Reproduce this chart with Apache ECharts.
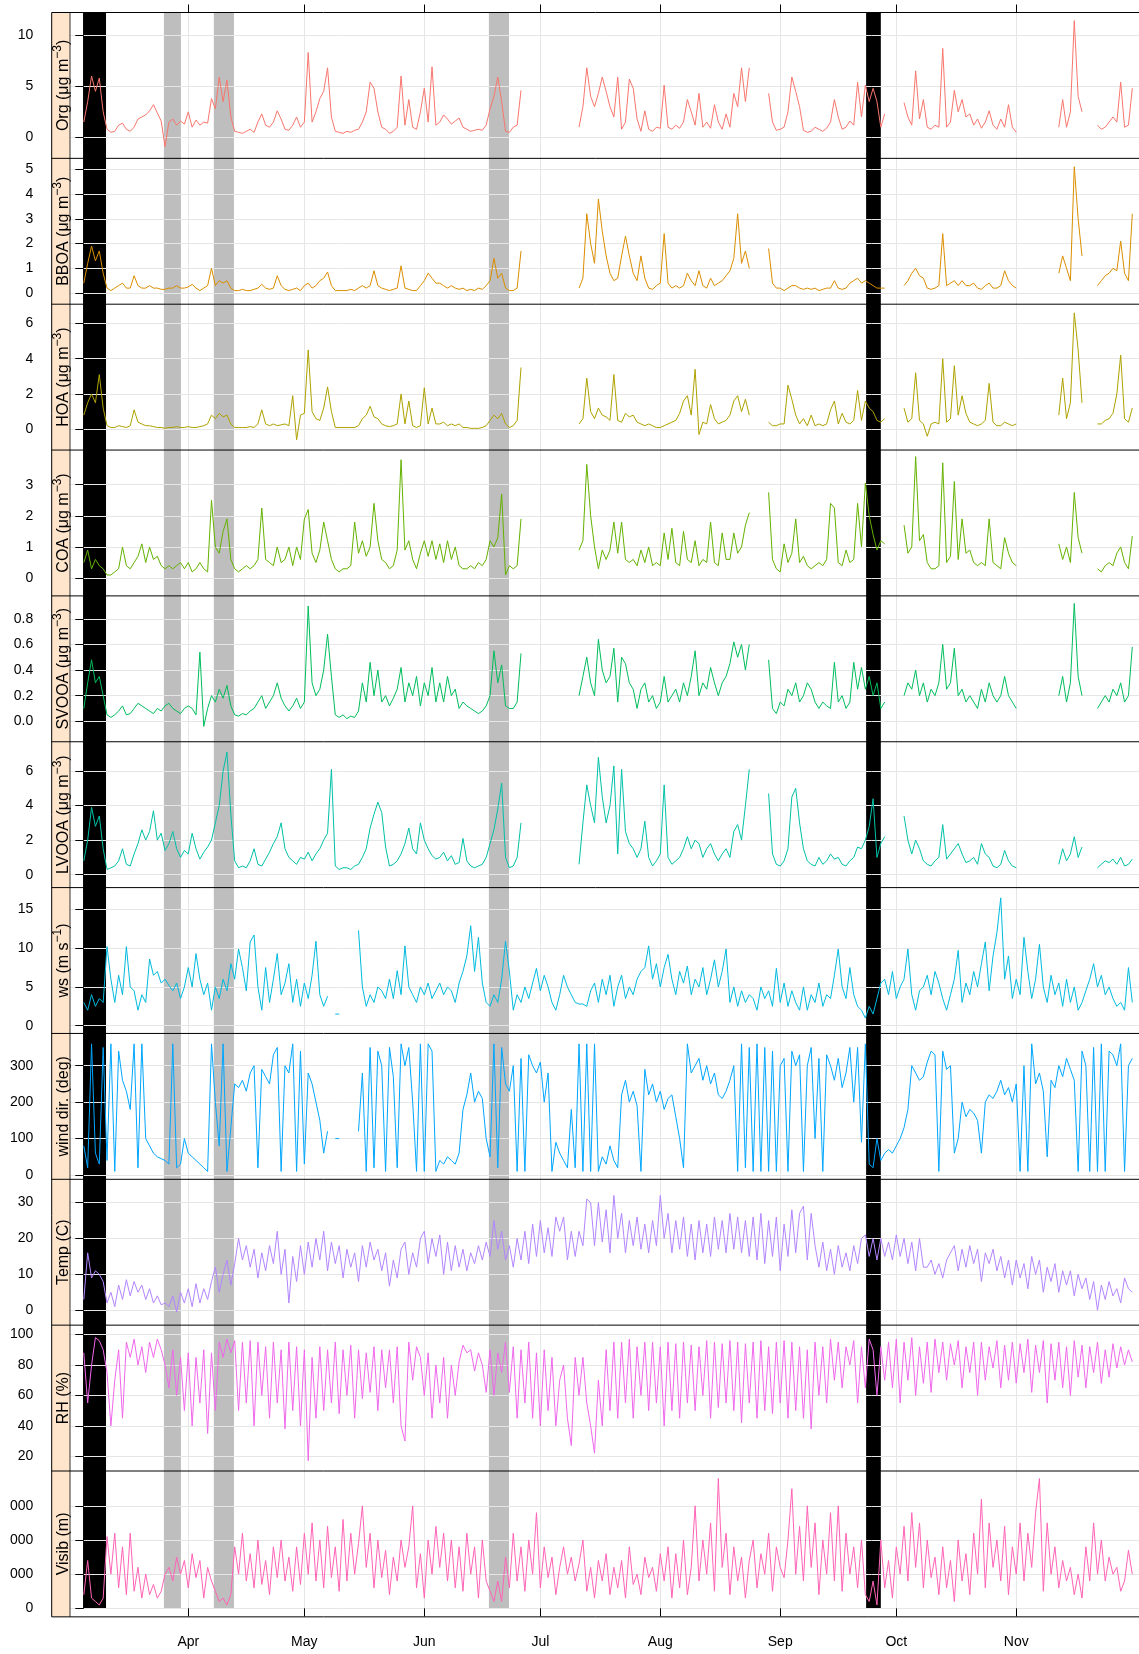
<!DOCTYPE html>
<html><head><meta charset="utf-8">
<script src="https://cdn.jsdelivr.net/npm/echarts@6/dist/echarts.min.js"></script>
<style>html,body{margin:0;padding:0;background:#fff}#c{width:1139px;height:1654px}</style>
</head><body><div id="c"></div>
<script>
const _ = null;
// x = day index counted from 5 March (one value per day)
const monthTicks = [27,57,88,118,149,180,210,241];
const monthLabels = ['Apr','May','Jun','Jul','Aug','Sep','Oct','Nov'];
const blackBands = [[-0.2,5.74],[202.2,206.0]];
const grayBands = [[20.7,25.1],[33.6,38.8],[104.7,109.9]];

const org = [
/*0*/1.5,3.5,6.0,4.5,5.8,2.5,0.8,0.5,0.6,1.2,
/*10*/1.4,0.8,0.6,1.0,1.8,2.0,2.2,2.6,3.2,2.4,
/*20*/1.6,-0.9,1.5,1.8,1.2,1.6,1.3,2.5,1.0,1.7,
/*30*/1.2,1.5,1.4,3.8,2.8,5.9,3.5,5.6,2.0,0.6,
/*40*/0.5,0.4,0.6,0.8,0.5,1.5,2.3,1.2,1.0,1.5,
/*50*/2.6,1.8,0.8,0.7,1.2,2.0,1.0,1.5,8.3,1.5,
/*60*/2.5,3.8,4.5,6.8,2.0,0.6,0.5,0.4,0.6,0.5,
/*70*/0.7,0.8,1.5,2.5,5.4,4.8,2.5,1.0,0.8,0.4,
/*80*/0.6,1.0,6.0,1.2,3.7,1.0,0.8,2.5,4.8,1.5,
/*90*/6.9,1.2,1.5,2.2,1.8,1.3,1.6,1.9,1.0,0.8,
/*100*/0.6,0.7,0.8,0.7,1.2,2.8,4.0,5.9,3.5,0.6,
/*110*/0.5,1.0,1.2,4.6,_,_,_,_,_,_,
/*120*/_,_,_,_,_,_,_,_,1.0,3.0,
/*130*/6.8,4.0,3.0,4.3,5.9,4.5,3.0,2.0,5.9,0.8,
/*140*/1.5,5.7,4.8,1.8,0.6,2.6,0.8,0.6,1.0,0.9,
/*150*/5.1,1.0,0.8,1.2,0.9,1.5,3.7,2.5,1.2,4.3,
/*160*/1.0,1.5,0.9,3.2,1.5,0.8,2.3,1.0,4.3,3.0,
/*170*/6.8,3.5,6.8,_,_,_,_,4.3,1.5,0.7,
/*180*/0.8,1.0,2.5,5.9,4.5,3.0,0.7,0.5,0.6,1.0,
/*190*/0.8,0.6,0.9,1.5,3.7,2.0,0.8,1.0,1.6,1.2,
/*200*/5.4,2.0,5.1,3.5,4.8,3.5,1.0,2.3,_,_,
/*210*/_,_,3.4,2.0,1.2,6.5,1.8,3.7,1.0,0.8,
/*220*/1.2,1.0,8.7,1.0,1.5,4.6,2.5,3.7,2.0,2.3,
/*230*/1.2,1.8,0.9,1.5,2.6,1.2,0.8,1.8,1.0,3.2,
/*240*/1.0,0.5,_,_,_,_,_,_,_,_,
/*250*/_,_,1.0,3.7,1.0,2.5,11.4,4.0,2.5,_,
/*260*/_,_,1.2,0.8,1.0,1.5,2.0,1.5,5.4,1.0,
/*270*/1.2,4.8];

const bboa = [
/*0*/0.4,1.2,1.9,1.3,1.7,0.8,0.2,0.1,0.2,0.3,
/*10*/0.4,0.2,0.2,0.7,0.3,0.2,0.2,0.3,0.2,0.2,
/*20*/0.15,0.15,0.2,0.2,0.3,0.2,0.2,0.25,0.35,0.2,
/*30*/0.1,0.2,0.3,1.0,0.3,0.5,0.4,0.5,0.2,0.1,
/*40*/0.1,0.15,0.1,0.1,0.15,0.2,0.35,0.2,0.15,0.2,
/*50*/0.7,0.3,0.15,0.1,0.15,0.2,0.1,0.3,0.4,0.2,
/*60*/0.3,0.5,0.6,0.85,0.3,0.1,0.1,0.1,0.1,0.15,
/*70*/0.1,0.2,0.3,0.2,0.3,0.9,0.3,0.2,0.15,0.1,
/*80*/0.15,0.2,1.1,0.2,0.15,0.1,0.1,0.3,0.5,0.8,
/*90*/0.6,0.4,0.4,0.3,0.2,0.3,0.2,0.15,0.2,0.1,
/*100*/0.15,0.1,0.2,0.15,0.3,0.5,1.4,0.6,0.8,0.2,
/*110*/0.1,0.1,0.2,1.7,_,_,_,_,_,_,
/*120*/_,_,_,_,_,_,_,_,0.2,0.6,
/*130*/3.2,2.0,1.2,3.8,2.5,1.5,0.8,0.5,0.6,1.5,
/*140*/2.3,1.5,0.8,0.5,1.5,0.6,0.2,0.15,0.3,0.4,
/*150*/2.4,0.4,0.2,0.3,0.2,0.3,0.8,0.5,0.3,0.9,
/*160*/0.3,0.2,0.6,0.3,0.4,0.5,0.7,0.9,1.4,3.2,
/*170*/1.2,1.7,1.0,_,_,_,_,1.8,0.4,0.2,
/*180*/0.2,0.1,0.2,0.3,0.3,0.2,0.15,0.2,0.15,0.2,
/*190*/0.1,0.15,0.2,0.2,0.5,0.2,0.15,0.2,0.4,0.5,
/*200*/0.6,0.4,0.5,0.4,0.3,0.2,0.2,0.2,_,_,
/*210*/_,_,0.3,0.5,0.8,1.0,0.7,0.6,0.2,0.15,
/*220*/0.2,0.3,2.4,0.3,0.4,0.5,0.3,0.5,0.3,0.3,
/*230*/0.4,0.2,0.15,0.3,0.4,0.2,0.2,0.3,0.9,0.5,
/*240*/0.3,0.2,_,_,_,_,_,_,_,_,
/*250*/_,_,0.8,1.5,1.0,0.5,5.1,3.0,1.5,_,
/*260*/_,_,0.3,0.5,0.7,0.8,1.0,0.9,2.1,0.8,
/*270*/0.5,3.2];

const hoa = [
/*0*/0.8,1.5,2.0,1.5,3.1,1.2,0.2,0.1,0.1,0.2,
/*10*/0.15,0.1,0.2,1.1,0.4,0.3,0.2,0.2,0.15,0.1,
/*20*/0.1,0.05,0.1,0.1,0.15,0.1,0.1,0.15,0.1,0.1,
/*30*/0.15,0.2,0.3,0.8,0.6,0.9,0.7,0.8,0.3,0.1,
/*40*/0.1,0.1,0.1,0.15,0.1,0.3,1.1,0.3,0.2,0.3,
/*50*/0.2,0.25,0.3,0.2,1.9,-0.6,0.8,0.9,4.5,1.0,
/*60*/0.6,0.5,1.2,2.4,1.0,0.1,0.1,0.1,0.1,0.1,
/*70*/0.1,0.2,0.6,0.8,1.3,0.7,0.6,0.3,0.2,0.15,
/*80*/0.2,0.3,2.0,0.3,1.6,0.2,0.1,0.2,2.35,0.3,
/*90*/1.2,0.3,0.3,0.4,0.2,0.3,0.2,0.3,0.1,0.1,
/*100*/0.05,0.05,0.05,0.1,0.2,0.5,0.8,0.6,0.9,0.3,
/*110*/0.1,0.2,0.5,3.5,_,_,_,_,_,_,
/*120*/_,_,_,_,_,_,_,_,0.3,0.6,
/*130*/2.9,1.0,0.6,1.2,0.8,0.7,0.5,3.1,0.5,0.4,
/*140*/0.9,0.7,0.8,0.4,0.3,0.2,0.3,0.2,0.1,0.1,
/*150*/0.2,0.3,0.4,0.5,0.9,1.6,1.9,0.8,3.4,-0.3,
/*160*/0.4,0.3,1.4,0.6,0.3,0.4,0.5,0.8,1.6,1.9,
/*170*/1.0,1.7,0.8,_,_,_,_,0.4,0.2,0.2,
/*180*/0.3,0.3,2.5,1.7,0.8,0.3,0.6,0.2,0.8,0.2,
/*190*/0.3,0.2,0.3,1.1,1.6,0.3,0.9,0.4,0.3,0.5,
/*200*/2.2,0.5,1.6,1.2,1.0,0.5,0.4,0.6,_,_,
/*210*/_,_,1.2,0.4,0.6,3.2,0.5,0.3,-0.4,0.3,
/*220*/0.4,0.3,4.0,0.4,0.6,3.6,0.8,1.9,0.9,0.4,
/*230*/0.3,0.2,0.3,0.5,2.6,0.4,0.2,0.2,0.4,0.3,
/*240*/0.2,0.3,_,_,_,_,_,_,_,_,
/*250*/_,_,0.8,2.9,0.6,1.5,6.6,4.5,1.5,_,
/*260*/_,_,0.3,0.3,0.5,0.6,0.9,2.0,4.2,0.6,
/*270*/0.4,1.2];

const coa = [
/*0*/0.5,0.9,0.3,0.6,0.4,0.3,0.1,0.1,0.2,0.3,
/*10*/1.0,0.4,0.3,0.5,0.7,1.1,0.5,1.0,0.6,0.7,
/*20*/0.4,0.3,0.4,0.3,0.4,0.5,0.3,0.5,0.2,0.3,
/*30*/0.5,0.3,0.2,2.5,1.0,0.8,1.5,1.9,0.6,0.3,
/*40*/0.2,0.3,0.4,0.3,0.4,0.6,2.25,0.6,0.5,0.4,
/*50*/1.0,0.5,0.6,1.0,0.4,1.0,0.6,1.9,2.2,0.8,
/*60*/0.5,0.9,1.8,1.2,0.6,0.3,0.2,0.3,0.3,0.4,
/*70*/1.8,0.8,1.2,0.7,1.0,2.4,1.2,0.6,0.5,0.3,
/*80*/0.4,0.9,3.8,0.9,1.2,0.6,0.3,0.8,1.2,0.7,
/*90*/1.2,0.6,1.1,0.5,1.2,0.6,1.0,0.4,0.3,0.3,
/*100*/0.4,0.3,0.5,0.4,0.6,1.2,1.0,1.3,2.7,0.1,
/*110*/0.4,0.3,0.4,1.9,_,_,_,_,_,_,
/*120*/_,_,_,_,_,_,_,_,0.9,1.2,
/*130*/3.65,2.0,1.0,0.3,0.9,0.6,0.9,1.8,0.8,1.8,
/*140*/0.6,0.5,0.6,0.4,0.9,0.5,1.0,0.4,0.5,0.4,
/*150*/1.45,0.6,1.6,0.5,0.4,1.5,0.6,0.5,1.2,0.4,
/*160*/0.6,0.5,1.8,0.5,0.4,1.45,0.6,0.6,1.45,0.8,
/*170*/1.0,1.7,2.1,_,_,_,_,2.75,0.6,0.3,
/*180*/0.2,1.1,0.5,0.8,1.9,0.5,0.7,0.4,0.3,0.4,
/*190*/0.5,0.4,0.6,2.4,2.25,0.5,0.4,0.9,0.5,0.6,
/*200*/2.4,1.0,3.05,2.0,1.4,0.9,1.2,1.1,_,_,
/*210*/_,_,1.7,0.8,1.0,3.9,1.2,1.4,0.5,0.3,
/*220*/0.3,0.4,3.7,0.5,0.7,3.1,0.6,1.9,0.8,0.9,
/*230*/0.5,0.4,0.5,0.4,1.9,0.5,0.4,0.3,1.3,0.8,
/*240*/0.5,0.4,_,_,_,_,_,_,_,_,
/*250*/_,_,1.1,0.6,1.0,0.5,2.75,1.3,0.8,_,
/*260*/_,_,0.3,0.2,0.4,0.5,0.4,0.8,1.0,0.5,
/*270*/0.3,1.35];

const svooa = [
/*0*/0.1,0.3,0.48,0.3,0.35,0.2,0.05,0.03,0.05,0.08,
/*10*/0.12,0.05,0.06,0.1,0.14,0.12,0.1,0.08,0.06,0.1,
/*20*/0.08,0.12,0.14,0.1,0.08,0.06,0.1,0.12,0.1,0.05,
/*30*/0.54,-0.04,0.1,0.2,0.15,0.25,0.18,0.28,0.12,0.05,
/*40*/0.04,0.06,0.05,0.08,0.1,0.15,0.2,0.1,0.15,0.2,
/*50*/0.3,0.18,0.12,0.08,0.12,0.18,0.1,0.15,0.9,0.3,
/*60*/0.2,0.25,0.4,0.68,0.35,0.05,0.03,0.05,0.02,0.04,
/*70*/0.03,0.08,0.3,0.15,0.46,0.2,0.4,0.15,0.2,0.12,
/*80*/0.18,0.25,0.42,0.15,0.3,0.2,0.35,0.12,0.3,0.2,
/*90*/0.42,0.15,0.3,0.15,0.35,0.2,0.25,0.1,0.15,0.12,
/*100*/0.1,0.08,0.06,0.08,0.12,0.2,0.55,0.3,0.44,0.12,
/*110*/0.1,0.1,0.15,0.53,_,_,_,_,_,_,
/*120*/_,_,_,_,_,_,_,_,0.2,0.35,
/*130*/0.5,0.3,0.2,0.64,0.4,0.3,0.35,0.57,0.15,0.5,
/*140*/0.45,0.3,0.25,0.1,0.25,0.3,0.15,0.2,0.1,0.15,
/*150*/0.35,0.15,0.2,0.25,0.15,0.3,0.2,0.35,0.55,0.2,
/*160*/0.3,0.25,0.42,0.3,0.2,0.3,0.35,0.45,0.62,0.5,
/*170*/0.6,0.4,0.6,_,_,_,_,0.48,0.1,0.06,
/*180*/0.15,0.12,0.25,0.2,0.3,0.15,0.2,0.3,0.25,0.15,
/*190*/0.1,0.15,0.12,0.1,0.46,0.15,0.2,0.1,0.15,0.46,
/*200*/0.25,0.42,0.25,0.35,0.2,0.3,0.1,0.15,_,_,
/*210*/_,_,0.2,0.3,0.25,0.4,0.2,0.3,0.15,0.25,
/*220*/0.2,0.3,0.6,0.25,0.3,0.57,0.2,0.25,0.15,0.2,
/*230*/0.15,0.1,0.25,0.15,0.3,0.2,0.15,0.2,0.35,0.2,
/*240*/0.15,0.1,_,_,_,_,_,_,_,_,
/*250*/_,_,0.2,0.35,0.15,0.3,0.92,0.35,0.2,_,
/*260*/_,_,0.1,0.15,0.2,0.15,0.25,0.2,0.3,0.15,
/*270*/0.2,0.58];

const lvooa = [
/*0*/0.8,2.0,3.9,2.8,3.4,1.5,0.3,0.4,0.5,0.8,
/*10*/1.5,0.6,0.5,1.2,1.8,2.6,2.0,2.5,3.7,2.0,
/*20*/2.4,1.4,1.8,2.5,1.5,1.0,1.4,1.2,2.4,1.5,
/*30*/0.9,1.3,1.6,2.0,3.0,4.0,6.0,7.1,3.5,0.8,
/*40*/0.4,0.5,0.4,0.8,1.5,0.6,0.5,0.9,1.3,1.8,
/*50*/2.2,3.0,1.5,1.0,0.8,0.6,1.0,0.9,1.3,0.8,
/*60*/1.2,1.5,2.0,2.4,6.1,0.5,0.3,0.4,0.4,0.3,
/*70*/0.5,0.6,1.0,1.5,2.7,3.5,4.2,3.6,1.6,0.5,
/*80*/0.6,0.8,1.2,1.8,2.7,1.5,1.2,3.0,2.0,1.5,
/*90*/1.1,0.9,1.0,1.3,0.8,1.1,0.6,0.7,2.1,0.8,
/*100*/0.5,0.4,0.5,0.6,1.0,1.8,2.6,3.8,5.3,1.0,
/*110*/0.4,0.5,1.0,3.0,_,_,_,_,_,_,
/*120*/_,_,_,_,_,_,_,_,0.6,3.0,
/*130*/5.2,4.0,3.0,6.8,4.5,3.0,4.0,6.3,1.2,6.1,
/*140*/2.5,1.8,1.5,1.0,1.5,3.1,1.0,0.5,0.8,1.2,
/*150*/5.2,1.0,0.6,0.8,1.0,1.5,2.2,1.5,2.0,1.8,
/*160*/1.0,1.5,1.8,1.2,0.8,1.2,1.5,1.0,2.5,2.9,
/*170*/2.0,4.0,6.1,_,_,_,_,4.7,1.2,0.6,
/*180*/0.5,0.8,1.5,4.5,5.0,3.0,1.5,0.8,0.6,0.5,
/*190*/1.0,0.6,0.8,1.2,0.9,1.0,0.6,0.5,0.8,1.0,
/*200*/1.6,1.5,2.0,2.8,4.4,1.0,1.8,2.2,_,_,
/*210*/_,_,3.4,2.0,1.2,2.0,1.5,0.8,0.6,0.5,
/*220*/0.8,1.0,2.9,0.9,1.2,1.5,1.8,1.2,0.7,0.8,
/*230*/1.0,0.6,1.8,1.2,1.0,0.5,0.4,0.6,1.4,0.8,
/*240*/0.5,0.4,_,_,_,_,_,_,_,_,
/*250*/_,_,0.6,1.5,0.8,1.2,2.2,1.0,1.6,_,
/*260*/_,_,0.4,0.6,0.8,0.7,0.9,0.6,1.0,0.5,
/*270*/0.6,0.9];

const ws = [
/*0*/3.0,2.0,4.0,2.5,3.5,3.0,10.2,6.0,3.0,6.5,
/*10*/4.0,10.2,5.0,4.5,2.0,4.0,3.0,8.6,6.5,7.0,
/*20*/5.5,6.0,5.2,4.5,5.5,3.5,5.0,7.5,5.0,9.3,
/*30*/6.0,4.0,5.5,2.0,5.0,3.5,6.0,4.5,8.0,6.0,
/*40*/9.9,7.5,4.5,10.8,11.7,5.0,2.0,7.5,3.0,6.0,
/*50*/9.3,4.0,5.5,8.0,3.0,6.0,2.5,5.5,3.5,6.5,
/*60*/10.9,4.0,2.5,3.8,_,1.5,1.5,_,_,_,
/*70*/_,12.3,5.0,2.5,4.0,3.0,5.0,4.5,3.5,6.0,
/*80*/3.5,7.1,4.0,10.3,5.0,4.0,3.0,5.0,4.0,5.5,
/*90*/3.5,4.5,5.5,4.0,5.0,4.5,3.0,5.5,7.0,9.0,
/*100*/12.9,7.0,11.4,5.5,3.0,2.5,4.0,3.0,6.0,10.9,
/*110*/7.0,2.0,4.0,3.0,5.0,3.5,5.5,7.4,4.5,6.5,
/*120*/5.0,3.0,2.0,4.0,6.5,5.0,4.0,3.0,2.8,2.8,
/*130*/2.5,4.5,5.5,3.0,6.0,4.0,6.5,2.5,5.0,6.5,
/*140*/3.5,5.0,4.0,6.0,7.0,7.5,10.3,6.0,8.0,5.0,
/*150*/7.5,9.2,6.0,4.0,7.0,5.5,7.7,4.0,6.0,5.0,
/*160*/7.5,4.0,6.0,8.5,5.0,7.0,9.9,3.0,5.0,2.5,
/*170*/4.5,3.0,4.0,3.5,2.0,5.0,3.5,4.5,2.5,7.4,
/*180*/3.0,5.5,2.5,4.5,3.0,2.0,5.0,2.0,4.0,3.0,
/*190*/5.5,2.5,4.0,3.5,6.5,9.9,5.0,3.5,7.5,4.0,
/*200*/2.5,2.0,1.0,2.5,1.5,3.5,5.5,6.0,4.0,7.0,
/*210*/3.5,5.0,6.0,9.9,4.0,2.0,4.5,5.0,6.5,4.0,
/*220*/7.0,5.5,3.5,2.0,4.0,6.0,9.7,3.0,5.5,4.0,
/*230*/7.0,5.0,8.0,10.8,4.5,9.0,12.0,16.5,6.0,9.0,
/*240*/3.5,6.0,4.0,11.4,7.0,3.5,6.0,10.5,5.0,3.0,
/*250*/6.5,4.0,5.5,2.5,6.0,3.0,5.0,2.0,3.0,4.5,
/*260*/6.0,8.0,5.0,6.5,4.0,5.0,3.5,2.5,3.0,2.0,
/*270*/7.5,3.0];

const wd = [
/*0*/80,20,360,60,30,350,40,360,10,340,
/*10*/260,230,180,360,20,360,100,80,60,50,
/*20*/45,40,30,360,20,30,100,60,50,40,
/*30*/30,20,10,360,200,80,360,10,130,250,
/*40*/240,260,230,280,300,20,290,270,250,330,
/*50*/350,10,300,280,360,10,340,30,280,250,
/*60*/200,150,60,120,_,100,100,_,_,_,
/*70*/_,120,280,10,350,20,340,300,10,350,
/*80*/270,20,360,300,350,200,10,360,10,360,
/*90*/340,10,40,30,50,40,30,60,180,220,
/*100*/280,200,230,210,100,50,360,20,350,250,
/*110*/230,300,10,320,10,330,300,280,310,200,
/*120*/280,10,90,60,40,20,180,20,360,10,
/*130*/360,10,360,10,50,30,80,40,20,220,
/*140*/260,200,230,190,10,290,220,250,200,230,
/*150*/180,210,220,160,100,20,360,280,300,320,
/*160*/260,300,250,280,220,210,230,260,300,10,
/*170*/360,20,350,10,360,10,350,10,340,10,
/*180*/300,320,10,340,300,330,10,300,350,100,
/*190*/320,10,330,300,260,320,240,280,350,200,
/*200*/350,90,360,30,20,100,40,60,70,60,
/*210*/80,100,130,180,300,280,260,270,310,340,
/*220*/330,10,340,290,300,60,100,200,160,180,
/*230*/170,150,60,200,220,210,230,260,220,240,
/*240*/200,250,10,300,10,360,250,280,230,50,
/*250*/260,240,300,270,320,290,260,10,340,300,
/*260*/10,350,10,360,10,340,330,300,360,10,
/*270*/300,320];

const temp = [
/*0*/3,16,9,11,10,8,2,5,1,7,
/*10*/3,8.5,4,8,5,7,3,6,2,4,
/*20*/1.5,2,1,4,-0.5,5,2,6,1,7.4,
/*30*/2,6,3,8,12,5,10,14,7,13,
/*40*/20,14,18,12,17,9,16,11,18,13,
/*50*/22,10,17,2,15,8,18,10,19,12,
/*60*/20,14,22,11,19,13,18,9,17,12,
/*70*/16,8,18,12,19,14,17,11,16,6.7,
/*80*/14,9,17,19,10,16,12,20,22,13,
/*90*/20,15,21,10,19,11,18,12,17,11,
/*100*/16,13,18,14,19,15,25,17,22,14,
/*110*/18,12,20,14,22,13,24,15,25,16,
/*120*/23,15,26,22,26,14,22,15,22,18,
/*130*/31,30,18,30,19,28,16,32,20,27,
/*140*/16,25,18,26,17,24,16,25,18,32,
/*150*/20,27,16,25,17,26,15,24,14,25,
/*160*/16,24,15,26,17,25,16,27,17,26,
/*170*/16,25,15,26,14,27,13,25,15,26,
/*180*/11,24,15,28,16,27,29,14,27,18,
/*190*/12,19,11,17,10,18,12,16,11,18,
/*200*/13,20,21,15,20,14,20,15,19,14,
/*210*/21,15,20,13,19,11,20,12,12,14,
/*220*/10,13,9,14,16,18,11,17,12,18,
/*230*/13,17,8,16,13,17,11,15,9,14,
/*240*/7,14,9,13,6,15,10,14,5,12,
/*250*/8,13,5,11,7,11,4,10,6,9,
/*260*/3,8,0,7,3,8,4,6,2,9,
/*270*/6,5];

const rh = [
/*0*/88,55,80,98,96,90,75,40,70,90,
/*10*/45,95,85,97,80,92,75,95,85,97,
/*20*/90,80,65,90,60,85,50,88,40,85,
/*30*/55,90,35,88,50,95,85,97,88,96,
/*40*/50,95,55,96,40,95,60,92,45,95,
/*50*/55,90,38,95,50,92,40,90,17,85,
/*60*/45,92,50,90,55,95,48,90,60,93,
/*70*/45,90,58,88,62,92,50,90,65,90,
/*80*/55,92,40,30,95,70,92,85,60,88,
/*90*/45,80,55,85,45,80,60,82,93,88,
/*100*/90,76,88,80,62,90,60,88,75,95,
/*110*/62,92,45,90,55,95,45,88,40,90,
/*120*/50,85,40,70,80,45,27,85,60,85,
/*130*/55,40,22,70,40,90,50,95,45,95,
/*140*/55,97,45,92,60,95,50,95,55,92,
/*150*/40,95,50,94,45,95,55,93,50,92,
/*160*/60,96,45,95,52,94,55,96,50,95,
/*170*/42,94,55,95,45,96,50,92,48,95,
/*180*/55,96,45,95,50,92,45,90,38,95,
/*190*/60,92,55,97,70,95,65,92,80,96,
/*200*/55,92,65,97,90,60,92,70,95,65,
/*210*/97,55,95,70,98,60,92,68,95,62,
/*220*/97,75,95,70,94,80,96,65,92,75,
/*230*/95,60,95,70,92,78,96,65,93,70,
/*240*/95,68,94,75,97,62,93,75,96,55,
/*250*/94,70,95,65,92,60,96,72,93,65,
/*260*/92,75,95,68,90,72,94,78,92,80,
/*270*/90,82];

// visibility in km (tick labels as printed: "000")
const visib = [
/*0*/4,14,3,2,1,3,21,10,22,6,
/*10*/18,4,22,5,12,3,10,4,7,3,
/*20*/5,10,12,8,15,10,14,6,16,9,
/*30*/14,3,12,8,5,2,3,1,4,18,
/*40*/10,22,8,16,6,20,7,14,4,18,
/*50*/9,20,8,15,5,18,7,22,10,25,
/*60*/8,20,6,24,9,18,5,26,8,22,
/*70*/10,19,30,12,22,6,20,9,17,4,
/*80*/15,8,20,12,18,30,6,16,3,20,
/*90*/10,24,12,22,8,20,6,18,5,22,
/*100*/10,18,3,20,8,5,2,8,2,15,
/*110*/6,22,8,18,5,20,10,28,6,18,
/*120*/9,15,4,12,18,10,15,8,13,20,
/*130*/5,12,3,14,8,16,4,12,6,14,
/*140*/3,18,7,10,4,15,9,12,5,16,
/*150*/8,18,3,16,6,20,4,12,30,8,
/*160*/20,10,25,5,38,12,22,4,18,8,
/*170*/15,3,14,20,6,16,10,22,5,18,
/*180*/12,9,20,35,10,24,8,30,12,25,
/*190*/4,20,10,28,8,30,5,22,10,18,
/*200*/6,20,4,2,8,1,20,6,14,3,
/*210*/18,10,24,8,28,12,25,6,20,9,
/*220*/15,4,18,6,14,2,20,8,16,4,
/*230*/22,10,32,6,25,12,20,8,24,4,
/*240*/18,10,25,8,22,12,28,38,5,25,
/*250*/10,18,6,14,8,12,4,10,3,18,
/*260*/8,25,10,20,8,15,10,12,5,8,
/*270*/17,10];

const orgTicks = [0,5,10];
const bboaTicks = [0,1,2,3,4,5];
const hoaTicks = [0,2,4,6];
const coaTicks = [0,1,2,3];
const svooaTicks = [0,0.2,0.4,0.6,0.8];
const lvooaTicks = [0,2,4,6];
const wsTicks = [0,5,10,15];
const wdTicks = [0,100,200,300];
const tempTicks = [0,10,20,30];
const rhTicks = [20,40,60,80,100];
const visibTicks = [0,10,20,30];
const visibTickLabels = ['0','000','000','000'];

const FONT = '"Liberation Sans", Arial, Helvetica, sans-serif';
const GRIDC = '#e6e6e6';
const L = 70, AX = 51.7, TOP0 = 12.5, PH = 145.85, W = 1139;
const XMIN = -3.57, XMAX = 272.73;
const BAND_BOTTOM = 1608.3;

const panels = [
  {name:'Org (μg m{s|−3})', data:org, color:'#F8766D', min:-2.04, max:12.2, ticks:orgTicks},
  {name:'BBOA (μg m{s|−3})', data:bboa, color:'#DB8E00', min:-0.45, max:5.44, ticks:bboaTicks},
  {name:'HOA (μg m{s|−3})', data:hoa, color:'#AEA200', min:-1.18, max:7.09, ticks:hoaTicks},
  {name:'COA (μg m{s|−3})', data:coa, color:'#64B200', min:-0.57, max:4.11, ticks:coaTicks},
  {name:'SVOOA (μg m{s|−3})', data:svooa, color:'#00BD5C', min:-0.16, max:0.979, ticks:svooaTicks, fmt:v=>v.toFixed(1)},
  {name:'LVOOA (μg m{s|−3})', data:lvooa, color:'#00C1A7', min:-0.75, max:7.7, ticks:lvooaTicks},
  {name:'ws (m s{s|−1})', data:ws, color:'#00BADE', min:-1.0, max:17.82, ticks:wsTicks},
  {name:'wind dir. (deg)', data:wd, color:'#00A6FF', min:-11.7, max:388.5, ticks:wdTicks},
  {name:'Temp (C)', data:temp, color:'#B385FF', min:-4.16, max:36.5, ticks:tempTicks},
  {name:'RH (%)', data:rh, color:'#EF67EB', min:10.3, max:106.2, ticks:rhTicks},
  {name:'Visib (m)', data:visib, color:'#FF63B6', min:-2.49, max:40.2, ticks:visibTicks, fmt:v=>visibTickLabels[visibTicks.indexOf(Math.round(v))]}
];

const grids = [], xAxes = [], yAxes = [], series = [], graphics = [];
const N = panels.length;
panels.forEach((p,i)=>{
  const last = i === N-1;
  grids.push({left:L, right:0, top:TOP0+i*PH, height:PH});
  xAxes.push({type:'value', gridIndex:i, min:XMIN, max:XMAX,
    axisLine:{show:false},
    axisTick:{show:last, length:8, customValues:monthTicks, lineStyle:{color:'#000', width:1}},
    axisLabel:{show:last, customValues:monthTicks, margin:18, fontSize:14, color:'#000', fontFamily:FONT,
      formatter:v=>monthLabels[monthTicks.indexOf(Math.round(v))]},
    splitLine:{show:true, customValues:monthTicks, lineStyle:{color:GRIDC, width:1}}});
  yAxes.push({type:'value', gridIndex:i, min:p.min, max:p.max, position:'left', offset:L-AX,
    axisLine:{show:false},
    axisTick:{show:true, length:8.5, customValues:p.ticks, lineStyle:{color:'#000', width:1}},
    axisLabel:{show:true, customValues:p.ticks, margin:18.4, fontSize:14, color:'#000', fontFamily:FONT,
      formatter:p.fmt || (v=>String(v))},
    splitLine:{show:true, customValues:p.ticks, lineStyle:{color:GRIDC, width:1}}});
  series.push({type:'line', xAxisIndex:i, yAxisIndex:i, data:p.data.map((v,k)=>[k,v]),
    showSymbol:false, symbol:'none', connectNulls:false, silent:true, z:3,
    lineStyle:{color:p.color, width:1}, itemStyle:{color:p.color}});
  const t = TOP0 + i*PH;
  graphics.push({type:'rect', shape:{x:AX, y:t, width:L-AX, height:PH}, style:{fill:'#FFE5CC'}, z:5});
  graphics.push({type:'text', x:63.5, y:t+PH/2, rotation:Math.PI/2, z:6,
    style:{text:p.name, fill:'#000', font:'16px '+FONT, align:'center', verticalAlign:'middle', lineHeight:24,
      rich:{s:{fontSize:12, fontFamily:FONT, fill:'#000', verticalAlign:'top', lineHeight:24}}}});
});
// top ticks
xAxes.push({type:'value', gridIndex:0, position:'top', min:XMIN, max:XMAX,
  axisLine:{show:false}, axisLabel:{show:false}, splitLine:{show:false},
  axisTick:{show:true, length:8, customValues:monthTicks, lineStyle:{color:'#000', width:1}}});
// band overlay
grids.push({left:L, right:0, top:TOP0, height:BAND_BOTTOM-TOP0});
xAxes.push({type:'value', gridIndex:N, min:XMIN, max:XMAX, show:false});
yAxes.push({type:'value', gridIndex:N, min:0, max:1, show:false});
function bandSeries(bands, color){
  return {type:'custom', xAxisIndex:N+1, yAxisIndex:N, z:-1, silent:true, data:bands,
    encode:{x:[0,1]},
    renderItem:(params, api)=>{
      const a = api.coord([api.value(0),1]);
      const b = api.coord([api.value(1),0]);
      return {type:'rect', shape:{x:a[0], y:a[1], width:b[0]-a[0], height:b[1]-a[1]}, style:{fill:color}};
    }};
}
series.push(bandSeries(blackBands,'#000000'));
series.push(bandSeries(grayBands,'#BEBEBE'));

// frame lines
const BOTTOM = TOP0 + N*PH;
graphics.push({type:'line', z:10, shape:{x1:AX, y1:TOP0, x2:AX, y2:BOTTOM}, style:{stroke:'#000', lineWidth:1}});
graphics.push({type:'line', z:10, shape:{x1:L, y1:TOP0, x2:L, y2:BOTTOM}, style:{stroke:'#333', lineWidth:1}});
for (let k=0;k<=N;k++){
  const y = TOP0 + k*PH;
  graphics.push({type:'line', z:10, shape:{x1:AX, y1:y, x2:W, y2:y}, style:{stroke:'#000', lineWidth:1}});
}

const chart = echarts.init(document.getElementById('c'), null, {renderer:'canvas'});
chart.setOption({animation:false, backgroundColor:'#fff', grid:grids, xAxis:xAxes, yAxis:yAxes, series:series, graphic:graphics});
</script></body></html>
